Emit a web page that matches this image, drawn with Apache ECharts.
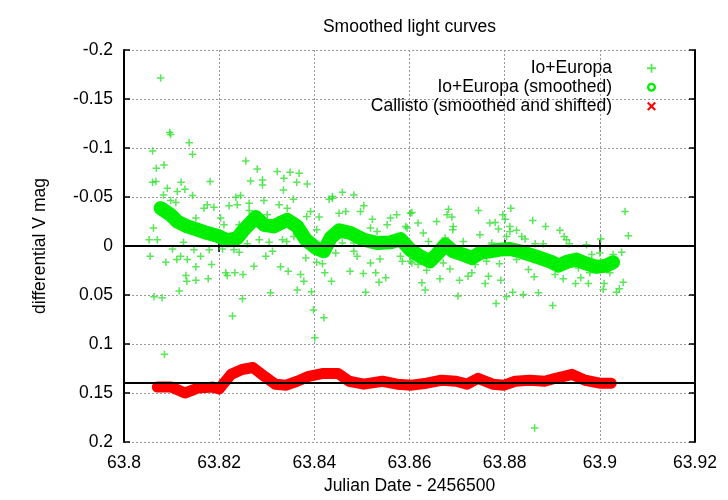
<!DOCTYPE html>
<html>
<head>
<meta charset="utf-8">
<script src="https://cdn.jsdelivr.net/npm/echarts@6/dist/echarts.min.js"></script>
<style>
html,body{margin:0;padding:0;background:#ffffff;}
#chart{width:728px;height:500px;}
</style>
</head>
<body>
<div id="chart"></div>
<script>
// ---- data ----
const titleText = 'Smoothed light curves';
const xAxisTitle = 'Julian Date - 2456500';
const yAxisTitle = 'differential V mag';
const seriesNames = ['Io+Europa', 'Io+Europa (smoothed)', 'Callisto (smoothed and shifted)'];
const xTicks = [63.8, 63.82, 63.84, 63.86, 63.88, 63.9, 63.92];
const yTicks = [-0.2, -0.15, -0.1, -0.05, 0, 0.05, 0.1, 0.15, 0.2];
const referenceLines = [0, 0.137];

const ioEuropaRaw = [
[63.8077,-0.1714],[63.8096,-0.1159],[63.8098,-0.1138],[63.8137,-0.1054],[63.8144,-0.0935],[63.8060,-0.0969],[63.8068,-0.0793],[63.8084,-0.0826],[63.8060,-0.0650],[63.8067,-0.0657],[63.8091,-0.0589],[63.8120,-0.0650],[63.8112,-0.0556],[63.8128,-0.0579],[63.8083,-0.0521],[63.8144,-0.0515],[63.8181,-0.0657],[63.8256,-0.0867],[63.8280,-0.0786],[63.8266,-0.0664],[63.8291,-0.0674],[63.8291,-0.0623],[63.8322,-0.0759],[63.8349,-0.0752],[63.8368,-0.0742],[63.8336,-0.0691],[63.8363,-0.0650],[63.8385,-0.0633],[63.8335,-0.0572],[63.8245,-0.0515],[63.8459,-0.0549],[63.8483,-0.0521],[63.8438,-0.0505],
[63.8098,-0.0464],[63.8109,-0.0444],[63.8168,-0.0386],[63.8175,-0.0420],[63.8189,-0.0396],[63.8221,-0.0410],[63.8235,-0.0498],[63.8238,-0.0420],[63.8263,-0.0437],[63.8263,-0.0363],[63.8294,-0.0464],[63.8326,-0.0420],[63.8343,-0.0386],[63.8356,-0.0478],[63.8392,-0.0352],[63.8410,-0.0295],[63.8384,-0.0302],[63.8431,-0.0478],[63.8438,-0.0488],[63.8452,-0.0335],[63.8466,-0.0352],[63.8497,-0.0352],[63.8504,-0.0410],[63.8522,-0.0274],[63.8518,-0.0183],[63.8532,-0.0149],[63.8553,-0.0217],[63.8560,-0.0285],[63.8573,-0.0318],[63.8595,-0.0183],[63.8602,-0.0335],[63.8062,-0.0183],[63.8053,-0.0064],[63.8070,-0.0064],[63.8125,-0.0037],[63.8151,-0.0285],[63.8203,-0.0285],[63.8210,-0.0217],[63.8242,-0.0217],[63.8301,-0.0318],[63.8324,-0.0267],[63.8357,-0.0098],[63.8333,-0.0064],[63.8342,-0.0047],[63.8284,-0.0064],[63.8305,-0.0037],[63.8259,-0.0024],[63.8405,-0.0166],[63.8459,-0.0030],[63.8483,-0.0030],[63.8592,-0.0200],
[63.8055,0.0105],[63.8088,0.0166],[63.8102,0.0030],[63.8111,0.0139],[63.8119,0.0105],[63.8133,0.0139],[63.8147,0.0037],[63.8161,0.0105],[63.8151,0.0213],[63.8184,0.0190],[63.8179,0.0037],[63.8207,0.0030],[63.8231,0.0037],[63.8242,0.0064],[63.8130,0.0302],[63.8132,0.0359],[63.8151,0.0349],[63.8177,0.0335],[63.8116,0.0460],[63.8063,0.0518],[63.8080,0.0528],[63.8214,0.0274],[63.8217,0.0302],[63.8233,0.0274],[63.8250,0.0291],[63.8273,0.0206],[63.8298,0.0105],[63.8312,0.0054],[63.8329,0.0213],[63.8345,0.0257],[63.8371,0.0291],[63.8378,0.0359],[63.8382,0.0122],[63.8308,0.0478],[63.8364,0.0450],[63.8394,0.0467],[63.8405,0.0166],[63.8417,0.0180],[63.8422,0.0274],[63.8436,0.0359],[63.8445,0.0071],[63.8483,0.0054],[63.8490,0.0105],[63.8475,0.0257],[63.8503,0.0281],[63.8518,0.0173],[63.8529,0.0274],[63.8538,0.0132],[63.8550,0.0325],[63.8536,0.0369],[63.8508,0.0471],[63.8581,0.0105],[63.8585,0.0156],[63.8602,0.0156],[63.8249,0.0539],[63.8228,0.0715],[63.8398,0.0654],[63.8420,0.0732],[63.8401,0.0935],[63.8085,0.1105],[63.8863,0.1857],
[63.8605,-0.0342],[63.8682,-0.0376],[63.8679,-0.0318],[63.8689,-0.0295],[63.8745,-0.0363],[63.8796,-0.0318],[63.8801,-0.0274],[63.8813,-0.0386],[63.9053,-0.0352],[63.9060,-0.0105],[63.8618,-0.0234],[63.8657,-0.0251],[63.8692,-0.0200],[63.8691,-0.0166],[63.8769,-0.0234],[63.8780,-0.0241],[63.8787,-0.0173],[63.8811,-0.0200],[63.8811,-0.0149],[63.8859,-0.0261],[63.8886,-0.0200],[63.8916,-0.0160],[63.8925,-0.0098],[63.8930,-0.0064],[63.8629,-0.0132],[63.8640,-0.0047],[63.8675,-0.0081],[63.8713,-0.0047],[63.8748,-0.0115],[63.8773,-0.0030],[63.8804,-0.0098],[63.8825,-0.0160],[63.8836,-0.0098],[63.8843,-0.0071],[63.8864,-0.0024],[63.8881,-0.0024],[63.8936,-0.0024],[63.8972,-0.0014],[63.9002,-0.0071],
[63.8605,0.0173],[63.8618,0.0190],[63.8636,0.0247],[63.8671,0.0173],[63.8685,0.0234],[63.8664,0.0335],[63.8626,0.0376],[63.8633,0.0450],[63.8702,0.0511],[63.8705,0.0349],[63.8723,0.0308],[63.8731,0.0274],[63.8738,0.0190],[63.8759,0.0383],[63.8766,0.0308],[63.8762,0.0156],[63.8789,0.0180],[63.8792,0.0349],[63.8782,0.0586],[63.8804,0.0518],[63.8817,0.0471],[63.8839,0.0495],[63.8850,0.0241],[63.8862,0.0315],[63.8871,0.0478],[63.8901,0.0607],[63.8906,0.0291],[63.8923,0.0335],[63.8949,0.0383],[63.8960,0.0325],[63.8976,0.0383],[63.8955,0.0224],[63.8979,0.0274],[63.9007,0.0444],[63.9009,0.0383],[63.9035,0.0471],[63.9041,0.0437],[63.9049,0.0369],[63.9021,0.0274],[63.9046,0.0064],[63.9028,0.0088],[63.9000,0.0071],[63.8983,0.0088],[63.8657,0.0139],[63.8723,0.0139],[63.8825,0.0139],[63.8910,0.0234]
];

const ioEuropaSmoothed = [
[63.8077,-0.0386],[63.8098,-0.0318],[63.8112,-0.0251],[63.8133,-0.0200],[63.8154,-0.0166],[63.8175,-0.0132],[63.8196,-0.0105],[63.8217,-0.0058],[63.8238,-0.0081],[63.8252,-0.0166],[63.8277,-0.0295],[63.8294,-0.0217],[63.8315,-0.0200],[63.8343,-0.0267],[63.8364,-0.0200],[63.8382,-0.0064],[63.8403,0.0020],[63.8420,0.0054],[63.8434,-0.0081],[63.8452,-0.0160],[63.8476,-0.0132],[63.8504,-0.0064],[63.8532,-0.0030],[63.8560,-0.0037],[63.8581,-0.0071],[63.8602,0.0040],[63.8622,0.0105],[63.8643,0.0156],[63.8657,0.0088],[63.8675,-0.0014],[63.8692,0.0054],[63.8713,0.0088],[63.8731,0.0122],[63.8748,0.0071],[63.8769,0.0054],[63.8790,0.0037],[63.8811,0.0030],[63.8832,0.0054],[63.8853,0.0088],[63.8874,0.0122],[63.8895,0.0156],[63.8913,0.0200],[63.8934,0.0156],[63.8951,0.0139],[63.8972,0.0180],[63.8993,0.0213],[63.9014,0.0200],[63.9028,0.0166]
];

const callistoSmoothed = [
[63.8070,0.144],[63.8100,0.144],[63.8128,0.150],[63.8155,0.145],[63.8186,0.144],[63.8200,0.146],[63.8225,0.131],[63.8248,0.126],[63.8271,0.124],[63.8295,0.133],[63.8318,0.141],[63.8341,0.142],[63.8364,0.138],[63.8388,0.133],[63.8419,0.130],[63.8450,0.130],[63.8473,0.138],[63.8504,0.141],[63.8543,0.138],[63.8574,0.141],[63.8605,0.142],[63.8636,0.140],[63.8667,0.137],[63.8698,0.138],[63.8721,0.141],[63.8744,0.135],[63.8775,0.141],[63.8799,0.142],[63.8822,0.138],[63.8853,0.137],[63.8884,0.138],[63.8907,0.135],[63.8942,0.131],[63.8969,0.137],[63.9000,0.140],[63.9024,0.140]
];

// ---- styles ----
const FONT = "'Liberation Sans', Arial, sans-serif";
const FS = 17.5;
const GREEN_RAW = '#30e030';
const GREEN = '#00ee00';
const RED = '#ff0000';
const PLUS = 'path://M4,0H6V4H10V6H6V10H4V6H0V4H4Z';
const CROSS = 'path://M0,1.6L1.6,0L5,3.4L8.4,0L10,1.6L6.6,5L10,8.4L8.4,10L5,6.6L1.6,10L0,8.4L3.4,5Z';
const RING = 'path://M5,0A5,5 0 1,1 4.99,0ZM5,2.6A2.4,2.4 0 1,0 5.01,2.6Z';

const fmt = v => String(+Number(v).toFixed(2));
const frame = {show: true, lineStyle: {color: '#000', width: 2}};
const ticks = {show: true, inside: true, length: 6, lineStyle: {color: '#000', width: 1.5}};
const grid = {show: true, lineStyle: {color: '#999', width: 1, type: [2, 2]}};

const chart = echarts.init(document.getElementById('chart'), null, {renderer: 'canvas'});
chart.setOption({
  backgroundColor: '#ffffff',
  animation: false,
  textStyle: {fontFamily: FONT},
  title: {
    text: titleText, left: 409.5, top: 18, textAlign: 'center', padding: 0,
    textStyle: {fontFamily: FONT, fontSize: FS, fontWeight: 'normal', color: '#000'}
  },
  grid: {left: 124, right: 33, top: 50, bottom: 57},
  legend: {
    orient: 'vertical', align: 'right', right: 72, top: 59, padding: 0,
    itemWidth: 9, itemHeight: 9, itemGap: 0.5,
    textStyle: {fontFamily: FONT, fontSize: FS, color: '#000', lineHeight: 18.5, padding: [0, 30, 0, 0]},
    data: [
      {name: seriesNames[0], icon: PLUS},
      {name: seriesNames[1], icon: RING},
      {name: seriesNames[2], icon: CROSS}
    ]
  },
  xAxis: [{
    type: 'value', min: xTicks[0], max: xTicks[xTicks.length - 1], interval: 0.02,
    name: xAxisTitle, nameLocation: 'middle', nameGap: 35,
    nameTextStyle: {fontFamily: FONT, fontSize: FS, color: '#000'},
    axisLine: frame, axisTick: ticks, splitLine: grid,
    axisLabel: {margin: 12, fontFamily: FONT, fontSize: FS, color: '#000', formatter: fmt}
  }, {
    type: 'value', position: 'top', min: xTicks[0], max: xTicks[xTicks.length - 1], interval: 0.02,
    axisLine: frame, axisTick: ticks, splitLine: {show: false}, axisLabel: {show: false}
  }],
  yAxis: [{
    type: 'value', inverse: true, min: yTicks[0], max: yTicks[yTicks.length - 1], interval: 0.05,
    name: yAxisTitle, nameLocation: 'middle', nameGap: 75, nameRotate: 90,
    nameTextStyle: {fontFamily: FONT, fontSize: FS, color: '#000'},
    axisLine: frame, axisTick: ticks, splitLine: grid,
    axisLabel: {margin: 11, fontFamily: FONT, fontSize: FS, color: '#000', formatter: fmt}
  }, {
    type: 'value', position: 'right', inverse: true, min: yTicks[0], max: yTicks[yTicks.length - 1], interval: 0.05,
    axisLine: frame, axisTick: ticks, splitLine: {show: false}, axisLabel: {show: false}
  }],
  series: [{
    name: seriesNames[0], type: 'scatter', data: ioEuropaRaw,
    symbol: PLUS, symbolSize: 7.5, itemStyle: {color: GREEN_RAW}, z: 2
  }, {
    name: seriesNames[1], type: 'line', data: ioEuropaSmoothed,
    showSymbol: false, symbol: 'none', color: GREEN,
    lineStyle: {color: GREEN, width: 14, cap: 'round', join: 'round'}, z: 3
  }, {
    name: seriesNames[2], type: 'line', data: callistoSmoothed,
    showSymbol: false, symbol: 'none', color: RED,
    lineStyle: {color: RED, width: 11, cap: 'round', join: 'round'}, z: 4,
    markLine: {
      silent: true, symbol: 'none', label: {show: false},
      lineStyle: {color: '#000', width: 1.8, type: 'solid'},
      data: referenceLines.map(v => ({yAxis: v}))
    }
  }]
});
</script>
</body>
</html>
